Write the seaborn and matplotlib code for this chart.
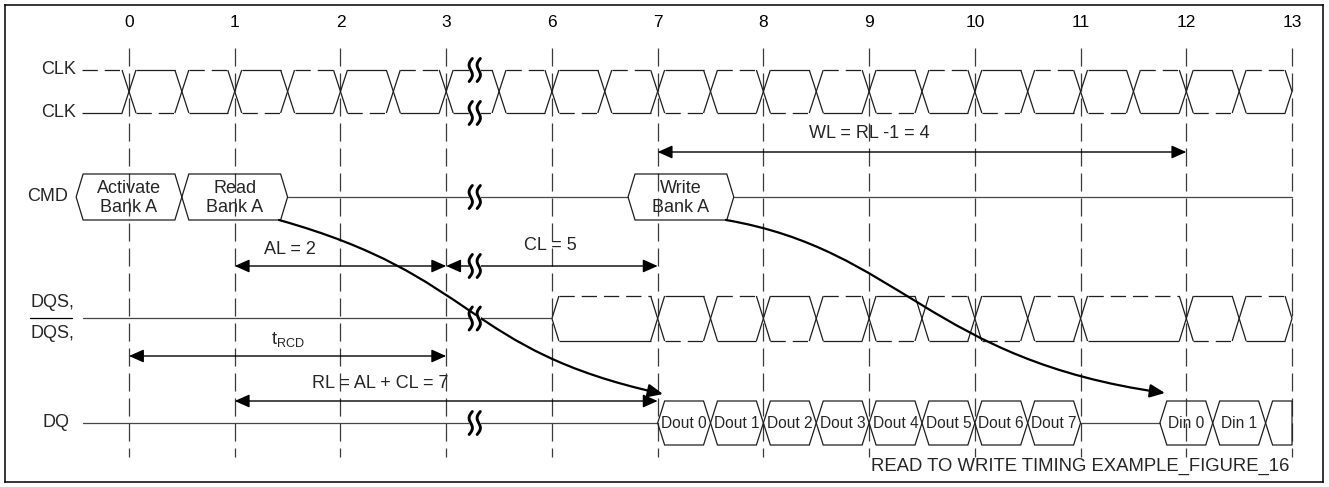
import numpy as np
import pandas as pd
import matplotlib
matplotlib.use('Agg')
import matplotlib.pyplot as plt
from matplotlib.patches import Polygon, FancyArrowPatch
from matplotlib.path import Path
import seaborn as sns

sns.set_theme(style='white')
plt.rcParams['font.family'] = ['Liberation Sans', 'DejaVu Sans']
plt.rcParams['mathtext.fontset'] = 'custom'
plt.rcParams['mathtext.rm'] = 'Liberation Sans'
plt.rcParams['mathtext.it'] = 'Liberation Sans'
plt.rcParams['lines.scale_dashes'] = False

# clock numbers on top (cycles 4 and 5 are cut out by the break)
tick_labels = ['0', '1', '2', '3', '6', '7', '8', '9', '10', '11', '12', '13']
tick_pos = list(range(len(tick_labels)))

# CLK / CLK# : edges and whether the solid CLK is high after each boundary
clk_edges = [0, 0.5, 1, 1.5, 2, 2.5, 3, 3.5, 4, 4.5, 5, 5.5, 6, 6.5, 7, 7.5,
             8, 8.5, 9, 9.5, 10, 10.5]
clk_high = [False, True, False, True, False, True, False, True, False, True, False,
            True, False, True, False, True, False, True, False, True, False, True, False]

# DQS / DQS# after the preamble opens at cycle 6
dqs_edges = [5, 5.5, 6, 6.5, 7, 7.5, 8, 8.5, 9, 10, 10.5]
dqs_high = [False, True, False, True, False, True, False, True, False, False, True, False]

# commands
cmd_text = ['Activate\nBank A', 'Read\nBank A', 'Write\nBank A']
cmd_from = [-0.5, 0.5, 4.72]
cmd_to = [0.5, 1.5, 5.72]

# data bursts on DQ
dq_text = ['Dout 0', 'Dout 1', 'Dout 2', 'Dout 3', 'Dout 4', 'Dout 5', 'Dout 6', 'Dout 7',
           'Din 0', 'Din 1', '']
dq_from = [5, 5.5, 6, 6.5, 7, 7.5, 8, 8.5, 9.75, 10.25, 10.75]
dq_to = [5.5, 6, 6.5, 7, 7.5, 8, 8.5, 9, 10.25, 10.75, 11]

# timing spans
span_text = ['WL = RL -1 = 4', 'AL = 2', 'CL = 5', r'$\mathregular{t_{RCD}}$', 'RL = AL + CL = 7']
span_from = [5, 1, 3, 0, 1]
span_to = [10, 3, 5, 3, 5]


def px(v):
    # reference pixel column -> clock position
    return (v - 129) / 105.73


# layout (rows in pixel units, y grows downward)
Y_CLK_HI, Y_CLK_LO = 70, 113
Y_CMD, H_CMD = 197, 23
Y_DQS_HI, Y_DQS_LO = 296, 341
Y_DQS_MID = (Y_DQS_HI + Y_DQS_LO) / 2
Y_DQ, H_DQ = 423, 22
span_row = [152, 266, 266, 356, 401]
span_tx = [7.0, 1.52, 3.99, 1.5, 2.38]
span_ty = [134, 250, 246, 340, 384]
BRK = 3.27
T = 0.066
INS = 0.066
X0 = px(83)
WAVE = '#1e1e1e'
BUS = '#454545'
DASH = (0, (11, 5))

fig = plt.figure(figsize=(13.29, 4.87), dpi=100)
ax = fig.add_axes([5 / 1329, 5 / 487, 1318 / 1329, 477 / 487])
ax.set_xlim(px(5), px(1323))
ax.set_ylim(482, 5)
ax.set_xticks([])
ax.set_yticks([])
for s in ax.spines.values():
    s.set_visible(True)
    s.set_color('black')
    s.set_linewidth(1.1)

# dashed clock grid
ax.vlines(tick_pos, 48, 457, colors='#3a3a3a', linewidth=0.9, linestyles=[(0, (13, 5))], zorder=1)
for p, lab in zip(tick_pos, tick_labels):
    ax.text(p, 23, lab, ha='center', va='center', fontsize=12.5, color='black')


def diff_wave(edges, high, start, end, y_hi, y_lo, opened=False):
    bounds = [start] + list(edges) + [end]
    mid = (y_hi + y_lo) / 2
    kw = dict(color=WAVE, lw=0.9, zorder=2, solid_capstyle='butt')
    for k in range(len(bounds) - 1):
        a, b = bounds[k], bounds[k + 1]
        a2 = a + T if (k > 0 or opened) else a
        b2 = b - T
        ax.plot([a2, b2], [y_hi, y_hi], ls='-' if high[k] else DASH, **kw)
        ax.plot([a2, b2], [y_lo, y_lo], ls=DASH if high[k] else '-', **kw)
    for e in edges:
        ax.plot([e - T, e + T], [y_hi, y_lo], **kw)
        ax.plot([e - T, e + T], [y_lo, y_hi], **kw)
    if opened:
        ax.plot([start + T, start, start + T], [y_hi, mid, y_lo], **kw)
    ax.plot([end - T, end, end - T], [y_hi, mid, y_lo], **kw)


diff_wave(clk_edges, clk_high, px(82), 11, Y_CLK_HI, Y_CLK_LO)
diff_wave(dqs_edges, dqs_high, 4, 11, Y_DQS_HI, Y_DQS_LO, opened=True)

# idle bus lines
bus = pd.DataFrame({
    'x': [cmd_to[1], cmd_from[2], cmd_to[2], 11, X0, 4, X0, dq_from[0], dq_to[7], dq_from[8]],
    'y': [Y_CMD, Y_CMD, Y_CMD, Y_CMD, Y_DQS_MID, Y_DQS_MID, Y_DQ, Y_DQ, Y_DQ, Y_DQ],
    'seg': [0, 0, 1, 1, 2, 2, 3, 3, 4, 4],
})
sns.lineplot(data=bus, x='x', y='y', units='seg', estimator=None, color=BUS,
             lw=0.9, legend=False, ax=ax, zorder=2)
ax.set_xlabel('')
ax.set_ylabel('')
ax.set_xlim(px(5), px(1323))
ax.set_ylim(482, 5)


def hexagon(a, b, y, hh, open_right=False):
    if open_right:
        pts = [(a, y), (a + INS, y - hh), (b, y - hh), (b, y + hh), (a + INS, y + hh)]
    else:
        pts = [(a, y), (a + INS, y - hh), (b - INS, y - hh), (b, y), (b - INS, y + hh), (a + INS, y + hh)]
    ax.add_patch(Polygon(pts, closed=True, fill=False, edgecolor=WAVE, lw=0.9, zorder=2))


for a, b, lab in zip(cmd_from, cmd_to, cmd_text):
    hexagon(a, b, Y_CMD, H_CMD)
    ax.text((a + b) / 2, Y_CMD + 1, lab, ha='center', va='center', fontsize=13,
            linespacing=1.1, zorder=3)

for a, b, lab in zip(dq_from, dq_to, dq_text):
    hexagon(a, b, Y_DQ, H_DQ, open_right=(lab == ''))
    ax.text((a + b) / 2, Y_DQ + 1, lab, ha='center', va='center', fontsize=11.2, zorder=3)

# signal names
ax.text(px(76), Y_CLK_HI, 'CLK', ha='right', va='center', fontsize=13)
ax.text(px(76), Y_CLK_LO, 'CLK', ha='right', va='center', fontsize=13)
ax.text(px(68), Y_CMD, 'CMD', ha='right', va='center', fontsize=13)
ax.text(px(30), 303, 'DQS,', ha='left', va='center', fontsize=13)
ax.text(px(30), 334, 'DQS,', ha='left', va='center', fontsize=13)
ax.plot([px(30), px(72)], [Y_DQS_MID, Y_DQS_MID], color='black', lw=0.9)
ax.text(px(70), Y_DQ, 'DQ', ha='right', va='center', fontsize=13)

# timing spans
for a, b, r, tx, ty, lab in zip(span_from, span_to, span_row, span_tx, span_ty, span_text):
    ax.annotate('', xy=(b, r), xytext=(a, r),
                arrowprops=dict(arrowstyle='<|-|>,head_length=0.45,head_width=0.2',
                                mutation_scale=20, lw=1.0, color='black',
                                shrinkA=0, shrinkB=0), zorder=3)
    ax.text(tx, ty, lab, ha='center', va='center', fontsize=13, zorder=3)

# command -> data curves
curves = [
    [(px(279), 220), (px(479), 276), (px(463), 350), (px(663), 394)],
    [(px(726), 220), (px(900), 250), (px(930), 360), (px(1165), 393)],
]
for verts in curves:
    path = Path(verts, [Path.MOVETO, Path.CURVE4, Path.CURVE4, Path.CURVE4])
    ax.add_patch(FancyArrowPatch(path=path, arrowstyle='-|>,head_length=0.45,head_width=0.2',
                                 mutation_scale=20, lw=1.6, color='black', zorder=4))


def break_mark(x, y, h=23):
    yy = np.linspace(-h / 2, h / 2, 40)
    for dx in (-4, 4):
        xx = 2.4 * np.sin(2 * np.pi * yy / h) - 0.14 * yy + dx
        ax.plot(x + xx / 105.73, y + yy, color='black', lw=2.1, zorder=6,
                solid_capstyle='round')
    ax.plot([x - 4 / 105.73, x + 4 / 105.73], [y, y], color='white', lw=3, zorder=5)


for yb in (Y_CLK_HI, Y_CLK_LO, Y_CMD, span_row[2], Y_DQS_MID, Y_DQ):
    break_mark(BRK, yb)

ax.text(px(1289), 466, 'READ TO WRITE TIMING EXAMPLE_FIGURE_16', ha='right', va='center',
        fontsize=13.3)

fig.savefig('out.png', dpi=100)
